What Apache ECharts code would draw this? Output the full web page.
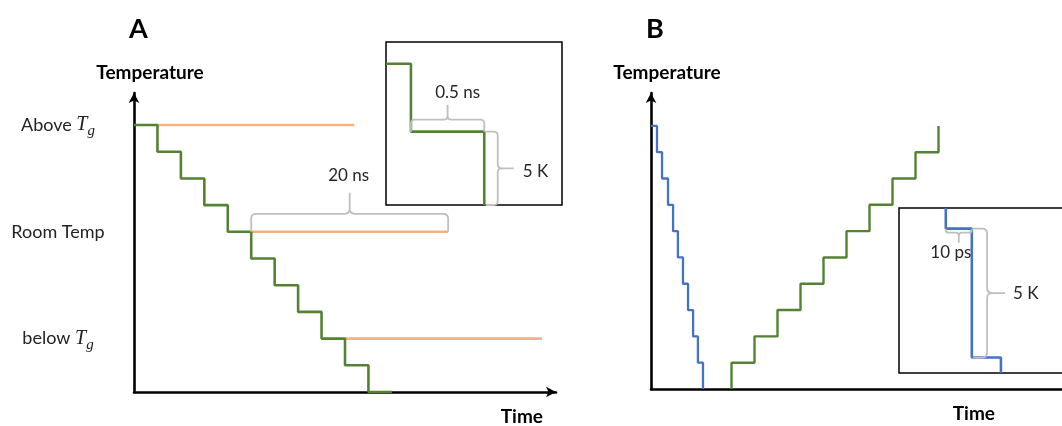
<!DOCTYPE html>
<html>
<head>
<meta charset="utf-8">
<script src="https://cdn.jsdelivr.net/npm/echarts@6/dist/echarts.min.js"></script>
<style>
  html, body { margin: 0; padding: 0; background: #fff; }
  #chart { width: 1062px; height: 426px; }
</style>
</head>
<body>
<div id="chart"></div>
<script>
// ---- Panel A: stepwise cooling, one 5 K step every 20 ns ----
const coolTimeA = [0, 1, 2, 3, 4, 5, 6, 7, 8, 9, 10, 11];
const coolTempA = [10, 9, 8, 7, 6, 5, 4, 3, 2, 1, 0, 0];
// isothermal holds at three temperature levels
const holdLevelA = [10, 6, 2];
const holdStartA = [1, 5, 9];
const holdEndA = [9.4, 13.4, 17.4];
const levelValuesA = [10, 6, 2];
const levelLabelsA = ['Above {it|T}{sub|g}', 'Room Temp', 'below {it|T}{sub|g}'];
// zoom on a single step (time in ns, temperature in K)
const zoomTimeA = [0, 0.17, 0.67];
const zoomTempA = [10.4, 5.4, 0];
const braceHoldA = [5, 6, 13.4, 6];
const braceStepTimeA = [0.17, 5.4, 0.67, 5.4];
const braceStepTempA = [0.68, 5.4, 0.68, 0];

// ---- Panel B: fast quench followed by stepwise heating ----
const quenchTimeB = [0, 0.26, 0.48, 0.74, 0.96, 1.17, 1.39, 1.61, 1.83, 2.04, 2.26];
const quenchTempB = [10, 9, 8, 7, 6, 5, 4, 3, 2, 1, 0];
const heatTimeB = [3.5, 3.5, 4.5, 5.5, 6.5, 7.5, 8.5, 9.5, 10.5, 11.5, 12.5];
const heatTempB = [0, 1, 2, 3, 4, 5, 6, 7, 8, 9, 10];
// zoom on a single quench step (time in ps, temperature in K)
const zoomTimeB = [18, 18, 28, 39.2];
const zoomTempB = [6.4, 5.6, 0.6, 0];
const braceStepTimeB = [18, 5.6, 28, 5.6];
const braceStepTempB = [28.5, 5.6, 28.5, 0.6];

const GREEN = '#548235';
const BLUE = '#4472c4';
const ORANGE = '#f4b183';
const GREY = '#bfbfbf';
const FONT = 'Lato, "Open Sans", sans-serif';

const zip = (xs, ys) => xs.map((x, i) => [x, ys[i]]);

function braceSeries(idx, span, opt) {
  return {
    type: 'custom',
    xAxisIndex: idx, yAxisIndex: idx,
    z: 6, silent: true, clip: false,
    data: [span],
    encode: { x: [0, 2], y: [1, 3] },
    renderItem: function (params, api) {
      const a = api.coord([api.value(0), api.value(1)]);
      const b = api.coord([api.value(2), api.value(3)]);
      const L = Math.hypot(b[0] - a[0], b[1] - a[1]);
      const u = [(b[0] - a[0]) / L, (b[1] - a[1]) / L];
      const n = opt.normal;
      const d = opt.depth, t = opt.tick, r = Math.min(opt.radius, d);
      const m = L / 2;
      const P = (s, h) => (a[0] + u[0] * s + n[0] * h).toFixed(2) + ' ' + (a[1] + u[1] * s + n[1] * h).toFixed(2);
      const path =
        'M' + P(0, 0) + ' L' + P(0, d - r) + ' Q' + P(0, d) + ' ' + P(r, d) +
        ' L' + P(m - r, d) + ' Q' + P(m, d) + ' ' + P(m, d + r) + ' L' + P(m, d + t) +
        ' M' + P(m, d + r) + ' Q' + P(m, d) + ' ' + P(m + r, d) +
        ' L' + P(L - r, d) + ' Q' + P(L, d) + ' ' + P(L, d - r) + ' L' + P(L, 0);
      const tip = [a[0] + u[0] * m + n[0] * (d + t), a[1] + u[1] * m + n[1] * (d + t)];
      return {
        type: 'group',
        children: [
          { type: 'path', shape: { pathData: path },
            style: { stroke: GREY, fill: null, lineWidth: 1.8 } },
          { type: 'text',
            style: { text: opt.label, x: tip[0] + opt.labelOffset[0], y: tip[1] + opt.labelOffset[1],
                     align: opt.align, verticalAlign: 'middle', fill: '#262626',
                     fontSize: 17, fontFamily: FONT } }
        ]
      };
    }
  };
}

function stepLine(idx, data, color, width, z) {
  return {
    type: 'line', xAxisIndex: idx, yAxisIndex: idx, step: 'end',
    data: data, symbol: 'none', z: z || 3, silent: true,
    lineStyle: { color: color, width: width }
  };
}

const axisLineMain = (arrow) => ({
  show: true,
  lineStyle: { color: '#000', width: 2.6 },
  symbol: arrow ? ['none', 'arrow'] : 'none',
  symbolSize: [8, 10]
});

const hiddenAxis = (min, max) => ({ type: 'value', min: min, max: max, show: false, splitLine: { show: false } });

const nameStyle = { fontFamily: FONT, fontWeight: 'bold', fontSize: 19, color: '#000' };
const titleStyle = { fontFamily: FONT, fontWeight: 'bold', fontSize: 27, color: '#000' };

const option = {
  backgroundColor: '#fff',
  animation: false,
  title: [
    { text: 'A', left: 124, top: 11, textStyle: titleStyle },
    { text: 'B', left: 641, top: 11, textStyle: titleStyle }
  ],
  grid: [
    { left: 134, top: 93, width: 422, height: 299, outerBoundsMode: 'none' },
    { left: 386, top: 42, width: 176, height: 163, outerBoundsMode: 'none',
      show: true, borderColor: '#000', borderWidth: 1.5, backgroundColor: '#fff' },
    { left: 651, top: 93, width: 420, height: 296, outerBoundsMode: 'none' },
    { left: 899, top: 208, width: 182, height: 165, outerBoundsMode: 'none',
      show: true, borderColor: '#000', borderWidth: 1.5, backgroundColor: '#fff' }
  ],
  xAxis: [
    { type: 'value', gridIndex: 0, min: 0, max: 18, axisLine: axisLineMain(true),
      axisTick: { show: false }, axisLabel: { show: false }, splitLine: { show: false },
      name: 'Time', nameLocation: 'end', nameGap: -13,
      nameTextStyle: Object.assign({ align: 'right', verticalAlign: 'top', padding: [15, 0, 0, 0] }, nameStyle) },
    Object.assign({ gridIndex: 1 }, hiddenAxis(0, 1.2)),
    { type: 'value', gridIndex: 2, min: 0, max: 18.26, axisLine: axisLineMain(false),
      axisTick: { show: false }, axisLabel: { show: false }, splitLine: { show: false },
      name: 'Time', nameLocation: 'end', nameGap: -76,
      nameTextStyle: Object.assign({ align: 'right', verticalAlign: 'top', padding: [15, 0, 0, 0] }, nameStyle) },
    Object.assign({ gridIndex: 3 }, hiddenAxis(0, 70))
  ],
  yAxis: [
    { type: 'value', gridIndex: 0, min: 0, max: 11.2, interval: 2, axisLine: axisLineMain(true),
      axisTick: { show: false }, splitLine: { show: false },
      axisLabel: {
        show: true, align: 'center', margin: 76,
        formatter: function (v) {
          const i = levelValuesA.indexOf(v);
          return i >= 0 ? levelLabelsA[i] : '';
        },
        color: '#222', fontFamily: FONT, fontSize: 18,
        rich: {
          it: { fontFamily: '"Liberation Serif", serif', fontStyle: 'italic', fontSize: 20, color: '#222' },
          sub: { fontFamily: '"Liberation Serif", serif', fontStyle: 'italic', fontSize: 15, color: '#222', padding: [12, 0, 0, 0] }
        }
      },
      name: 'Temperature', nameLocation: 'end', nameGap: 11,
      nameTextStyle: Object.assign({ padding: [0, 0, 0, 32] }, nameStyle) },
    Object.assign({ gridIndex: 1 }, hiddenAxis(0, 12)),
    { type: 'value', gridIndex: 2, min: 0, max: 11.25, axisLine: axisLineMain(true),
      axisTick: { show: false }, axisLabel: { show: false }, splitLine: { show: false },
      name: 'Temperature', nameLocation: 'end', nameGap: 11,
      nameTextStyle: Object.assign({ padding: [0, 0, 0, 32] }, nameStyle) },
    Object.assign({ gridIndex: 3 }, hiddenAxis(0, 6.4))
  ],
  series: [
    // orange isothermal holds
    ...holdLevelA.map((lv, i) => ({
      type: 'line', xAxisIndex: 0, yAxisIndex: 0, symbol: 'none', silent: true, z: 2,
      data: [[holdStartA[i], lv], [holdEndA[i], lv]],
      lineStyle: { color: ORANGE, width: 2.6 }
    })),
    stepLine(0, zip(coolTimeA, coolTempA), GREEN, 2.6, 3),
    braceSeries(0, braceHoldA, { normal: [0, -1], depth: 18, tick: 21, radius: 5, label: '20 ns', labelOffset: [-1, -17], align: 'center' }),
    stepLine(1, zip(zoomTimeA, zoomTempA), GREEN, 2.6, 3),
    braceSeries(1, braceStepTimeA, { normal: [0, -1], depth: 12, tick: 15, radius: 4, label: '0.5 ns', labelOffset: [10, -12], align: 'center' }),
    braceSeries(1, braceStepTempA, { normal: [1, 0], depth: 12, tick: 16, radius: 4, label: '5 K', labelOffset: [9, 3], align: 'left' }),
    stepLine(2, zip(quenchTimeB, quenchTempB), BLUE, 2.3, 3),
    stepLine(2, zip(heatTimeB, heatTempB), GREEN, 2.4, 3),
    stepLine(3, zip(zoomTimeB, zoomTempB), BLUE, 2.6, 3),
    braceSeries(3, braceStepTimeB, { normal: [0, 1], depth: 4, tick: 10, radius: 3, label: '10 ps', labelOffset: [-8, 10], align: 'center' }),
    braceSeries(3, braceStepTempB, { normal: [1, 0], depth: 14, tick: 18, radius: 5, label: '5 K', labelOffset: [8, 0], align: 'left' })
  ]
};

const chart = echarts.init(document.getElementById('chart'), null, { renderer: 'canvas' });
chart.setOption(option);
</script>
</body>
</html>
